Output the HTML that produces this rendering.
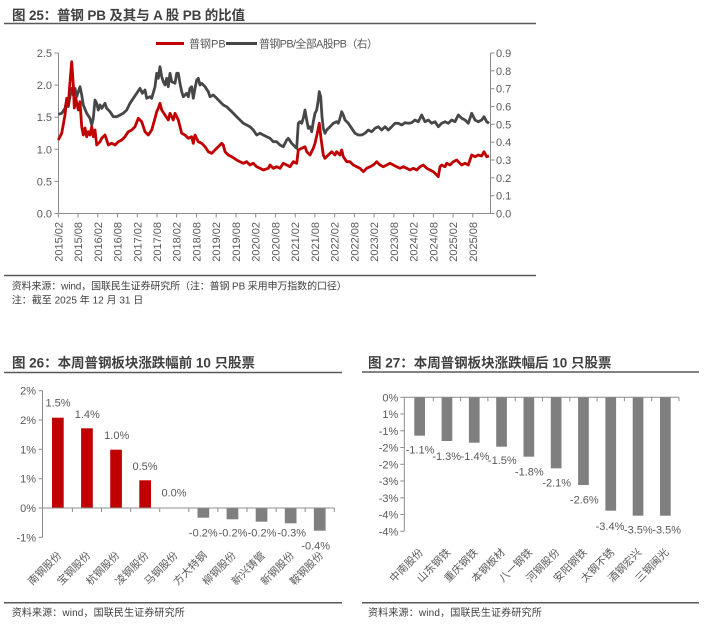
<!DOCTYPE html>
<html><head><meta charset="utf-8">
<style>
html,body{margin:0;padding:0;background:#fff;}
svg{display:block;}
text{font-family:"Liberation Sans","Noto Sans CJK SC",sans-serif;}
.t{font-size:13.5px;font-weight:bold;fill:#404040;}
.src{font-size:10px;fill:#404040;}
.ax{font-size:11px;fill:#595959;}
.cat{font-size:10.5px;fill:#595959;}
</style></head>
<body>
<svg width="705" height="624" viewBox="0 0 705 624" xmlns="http://www.w3.org/2000/svg">
<rect width="705" height="624" fill="#fff"/>

<!-- ============ Figure 25 ============ -->
<text class="t" x="12" y="20" textLength="233">图 25：普钢 PB 及其与 A 股 PB 的比值</text>
<line x1="4" y1="23.5" x2="536" y2="23.5" stroke="#595959" stroke-width="1.5"/>

<!-- legend -->
<line x1="156" y1="43.5" x2="184" y2="43.5" stroke="#C00000" stroke-width="3"/>
<text class="ax" x="189" y="47.5">普钢PB</text>
<line x1="226" y1="43.5" x2="257" y2="43.5" stroke="#474747" stroke-width="3"/>
<text class="ax" x="259" y="47.5" textLength="119">普钢PB/全部A股PB（右）</text>

<!-- left axis -->
<g stroke="#8c8c8c" stroke-width="1">
<line x1="58.5" y1="53" x2="58.5" y2="213.5"/>
<line x1="54.5" y1="53" x2="58.5" y2="53"/>
<line x1="54.5" y1="85.1" x2="58.5" y2="85.1"/>
<line x1="54.5" y1="117.2" x2="58.5" y2="117.2"/>
<line x1="54.5" y1="149.3" x2="58.5" y2="149.3"/>
<line x1="54.5" y1="181.4" x2="58.5" y2="181.4"/>
<line x1="54.5" y1="213.5" x2="58.5" y2="213.5"/>
</g>
<g class="ax" text-anchor="end">
<text x="52" y="57">2.5</text>
<text x="52" y="89.1">2.0</text>
<text x="52" y="121.2">1.5</text>
<text x="52" y="153.3">1.0</text>
<text x="52" y="185.4">0.5</text>
<text x="52" y="217.5">0.0</text>
</g>

<!-- right axis -->
<g stroke="#8c8c8c" stroke-width="1">
<line x1="490.5" y1="53" x2="490.5" y2="213.5"/>
<line x1="490.5" y1="53" x2="494.5" y2="53"/>
<line x1="490.5" y1="70.8" x2="494.5" y2="70.8"/>
<line x1="490.5" y1="88.7" x2="494.5" y2="88.7"/>
<line x1="490.5" y1="106.5" x2="494.5" y2="106.5"/>
<line x1="490.5" y1="124.3" x2="494.5" y2="124.3"/>
<line x1="490.5" y1="142.2" x2="494.5" y2="142.2"/>
<line x1="490.5" y1="160" x2="494.5" y2="160"/>
<line x1="490.5" y1="177.8" x2="494.5" y2="177.8"/>
<line x1="490.5" y1="195.7" x2="494.5" y2="195.7"/>
<line x1="490.5" y1="213.5" x2="494.5" y2="213.5"/>
</g>
<g class="ax">
<text x="496" y="57">0.9</text>
<text x="496" y="74.8">0.8</text>
<text x="496" y="92.7">0.7</text>
<text x="496" y="110.5">0.6</text>
<text x="496" y="128.3">0.5</text>
<text x="496" y="146.2">0.4</text>
<text x="496" y="164">0.3</text>
<text x="496" y="181.8">0.2</text>
<text x="496" y="199.7">0.1</text>
<text x="496" y="217.5">0.0</text>
</g>

<!-- x axis -->
<g stroke="#8c8c8c" stroke-width="1">
<line x1="58.5" y1="213.5" x2="490.5" y2="213.5"/>
<line x1="58.3" y1="213.5" x2="58.3" y2="217.5"/>
<line x1="78" y1="213.5" x2="78" y2="217.5"/>
<line x1="97.8" y1="213.5" x2="97.8" y2="217.5"/>
<line x1="117.5" y1="213.5" x2="117.5" y2="217.5"/>
<line x1="137.3" y1="213.5" x2="137.3" y2="217.5"/>
<line x1="157" y1="213.5" x2="157" y2="217.5"/>
<line x1="176.7" y1="213.5" x2="176.7" y2="217.5"/>
<line x1="196.5" y1="213.5" x2="196.5" y2="217.5"/>
<line x1="216.2" y1="213.5" x2="216.2" y2="217.5"/>
<line x1="236" y1="213.5" x2="236" y2="217.5"/>
<line x1="255.7" y1="213.5" x2="255.7" y2="217.5"/>
<line x1="275.4" y1="213.5" x2="275.4" y2="217.5"/>
<line x1="295.2" y1="213.5" x2="295.2" y2="217.5"/>
<line x1="314.9" y1="213.5" x2="314.9" y2="217.5"/>
<line x1="334.7" y1="213.5" x2="334.7" y2="217.5"/>
<line x1="354.4" y1="213.5" x2="354.4" y2="217.5"/>
<line x1="374.1" y1="213.5" x2="374.1" y2="217.5"/>
<line x1="393.9" y1="213.5" x2="393.9" y2="217.5"/>
<line x1="413.6" y1="213.5" x2="413.6" y2="217.5"/>
<line x1="433.4" y1="213.5" x2="433.4" y2="217.5"/>
<line x1="453.1" y1="213.5" x2="453.1" y2="217.5"/>
<line x1="472.8" y1="213.5" x2="472.8" y2="217.5"/>
</g>
<g class="ax" text-anchor="end">
<text x="62.3" y="222" transform="rotate(-90 62.3 222)">2015/02</text>
<text x="82" y="222" transform="rotate(-90 82 222)">2015/08</text>
<text x="101.8" y="222" transform="rotate(-90 101.8 222)">2016/02</text>
<text x="121.5" y="222" transform="rotate(-90 121.5 222)">2016/08</text>
<text x="141.3" y="222" transform="rotate(-90 141.3 222)">2017/02</text>
<text x="161" y="222" transform="rotate(-90 161 222)">2017/08</text>
<text x="180.7" y="222" transform="rotate(-90 180.7 222)">2018/02</text>
<text x="200.5" y="222" transform="rotate(-90 200.5 222)">2018/08</text>
<text x="220.2" y="222" transform="rotate(-90 220.2 222)">2019/02</text>
<text x="240" y="222" transform="rotate(-90 240 222)">2019/08</text>
<text x="259.7" y="222" transform="rotate(-90 259.7 222)">2020/02</text>
<text x="279.4" y="222" transform="rotate(-90 279.4 222)">2020/08</text>
<text x="299.2" y="222" transform="rotate(-90 299.2 222)">2021/02</text>
<text x="318.9" y="222" transform="rotate(-90 318.9 222)">2021/08</text>
<text x="338.7" y="222" transform="rotate(-90 338.7 222)">2022/02</text>
<text x="358.4" y="222" transform="rotate(-90 358.4 222)">2022/08</text>
<text x="378.1" y="222" transform="rotate(-90 378.1 222)">2023/02</text>
<text x="397.9" y="222" transform="rotate(-90 397.9 222)">2023/08</text>
<text x="417.6" y="222" transform="rotate(-90 417.6 222)">2024/02</text>
<text x="437.4" y="222" transform="rotate(-90 437.4 222)">2024/08</text>
<text x="457.1" y="222" transform="rotate(-90 457.1 222)">2025/02</text>
<text x="476.8" y="222" transform="rotate(-90 476.8 222)">2025/08</text>
</g>

<!-- gray series -->
<polyline fill="none" stroke="#474747" stroke-width="2.8" stroke-linejoin="round" points="58.3,114.3 61.7,113.3 65,108.3 66.7,100 68.3,106.7 70,96.7 71.7,88.3 73.3,95 75,88.3 76.7,96.7 78.3,91.7 80,86.7 81.7,95 83.3,105 86.7,113.3 90,118.3 91.7,125 93.3,118.3 95,100 96.7,103.3 98.3,110 100,105 101.7,108.3 105,103.3 106.7,108.3 110,111.7 113.3,116.7 116.7,116.7 120,115 123.3,113.3 126.7,110 130,103.3 133.3,98.3 136.7,93.3 140,88.3 142.3,93.3 145,90 146.7,98.3 150,96.7 151.7,98.3 155,86.7 156.7,73.3 158.3,78.3 160,66.7 161.7,76.7 163.3,81.7 165,85 166.7,78.3 168.3,86.7 170,73.3 171.7,81.7 175,83.3 176.7,73.3 178.3,73.3 180,83.3 181.7,91.7 183.3,96.7 186.7,93.3 188.3,96.7 190,88.3 191.7,86.7 193.3,98.3 195,88.3 196.7,80 198.3,78.3 200,85 201.7,83.3 205,86.7 208.3,91.7 210,96.7 213.3,95 216.7,98.3 220,101.7 223.3,105 226.7,106.7 230,110 233.3,113.3 236.7,116.7 240,120 243.3,123.3 246.7,125 250,126.7 253.3,130 256.7,135 260,133.3 263.3,135 266.7,136.7 270,138.3 273.3,141.7 276.7,141.7 280,145 283.3,146.7 286.7,140 288.3,138.3 291.7,143.3 295,146.7 296.7,148.3 298.3,123.3 300,121.7 301.7,123.3 303.3,118.3 305,110 306.7,120 308.3,128.3 310,126.7 311.7,131.7 313.3,121.7 315,113.3 316.7,110 318.3,100 319.3,91.7 320.7,96.7 322,116.7 323.3,128.3 325,133.3 326.7,130 330,126.7 333.3,123.3 336.7,121.7 338.3,123.3 340,118.3 341.7,111.7 343.3,115 345,120 348.3,123.3 351.7,128.3 355,133.3 358.3,135 361.7,135 365,133.3 368.3,130 371.7,131.7 375,128.3 378.3,126.7 381.7,130 385,126.7 388.3,130 391.7,126.7 395,123.3 398.3,123.3 401.7,125 405,122.7 408.3,123.3 411.7,122.7 415,120 418.3,121.7 421.7,115 425,121.7 428.3,120 431.7,123.3 435,121.7 438.3,126.7 441.7,123.3 445,121.7 448.3,123.3 451.7,120 455,121.7 458.3,115 461.7,118.3 465,120 468.3,123.3 471.7,113.3 475,120 478.3,121.7 481.7,120 484,116.7 486.7,121.7 489,123.3"/>

<!-- red series -->
<polyline fill="none" stroke="#C00000" stroke-width="2.8" stroke-linejoin="round" points="58.3,140 61.7,133.3 65,115 66.7,98.3 68.3,105 70,81.7 71.7,61.7 73.3,85 74.3,108 75.7,98 78.3,110 80,101.7 81.7,126.7 83.3,135 85,128 86.7,136.7 88.3,131.7 90,135 91.7,126.7 93.3,136.7 95,130 96.7,145 100,141.7 101.7,138.3 105,135 106.7,140 108.3,145 111.7,143.3 115,145 118.3,141.7 121.7,140 125,136.7 128.3,131.7 131.7,130 135,126.7 138.3,118.3 141.7,121.7 145,131.7 148.3,135 151.7,130 155,118.3 156.7,111.7 158.3,108.3 160,103.3 161.7,110 165,115 168.3,120 170,113.3 173.3,120 175,113.3 178.3,120 181.7,133.3 185,135 188.3,138.3 191.7,136.7 193.3,143.3 195,135 198.3,141.7 201.7,143.3 205,146.7 208.3,151.7 211.7,153.3 215,150 218.3,146.7 221.7,143.3 223.3,145 225,151.7 228.3,155 231.7,156.7 236.7,160 240,161.7 243.3,163.3 246.7,161.7 250,165 253.3,163.3 256.7,166.7 260,168.3 263.3,170 268.3,168.3 270,165 273.3,168.3 276.7,166.7 280,168.3 283.3,163.3 286.7,165 290,166.7 293.3,161.7 296.7,163.3 298.3,150 301.7,148.3 305,146.7 306.7,151.7 310,155 313.3,148.3 315,143.3 317.3,133.3 319.3,123.3 321,138.3 323.3,155 325,158.3 328.3,155 331.7,151.7 335,155 336.7,151.7 340,155 341.7,150 343.3,156.7 346.7,161.7 350,161.7 353.3,165 356.7,166.7 360,168.3 363.3,171.7 366.7,168.3 370,166.7 373.3,165 376.7,161.7 380,165 383.3,166.7 386.7,165 390,163.3 393.3,165 396.7,166.7 400,168.3 403.3,166.7 406.7,168.3 410,170 413.3,168.3 416.7,170 420,166.7 423.3,165 426.7,168.3 430,170 433.3,171.7 436.7,175 438.3,176.7 440,166.7 441.7,165 445,166.7 446.7,163.3 450,165 453.3,161.7 456.7,160 458.3,161.7 461.7,165 465,163.3 468.3,165 471.7,155 475,156.7 478.3,155 481.7,156 484,151.7 486.7,156.7 489,156"/>

<line x1="4" y1="275.5" x2="536" y2="275.5" stroke="#595959" stroke-width="1.5"/>
<text class="src" x="11.7" y="289.5" textLength="335">资料来源：wind，国联民生证券研究所（注：普钢 PB 采用申万指数的口径）</text>
<text class="src" x="11.7" y="303.5" textLength="131.6">注：截至 2025 年 12 月 31 日</text>

<!-- ============ Figure 26 ============ -->
<text class="t" x="12" y="367.5" textLength="243">图 26：本周普钢板块涨跌幅前 10 只股票</text>
<line x1="4" y1="372.5" x2="342" y2="372.5" stroke="#595959" stroke-width="1.5"/>

<g stroke="#8c8c8c" stroke-width="1">
<line x1="42.5" y1="390.7" x2="42.5" y2="537.3"/>
<line x1="38.5" y1="390.7" x2="42.5" y2="390.7"/>
<line x1="38.5" y1="420" x2="42.5" y2="420"/>
<line x1="38.5" y1="449.3" x2="42.5" y2="449.3"/>
<line x1="38.5" y1="478.7" x2="42.5" y2="478.7"/>
<line x1="38.5" y1="508" x2="42.5" y2="508"/>
<line x1="38.5" y1="537.3" x2="42.5" y2="537.3"/>
</g>
<g class="ax" text-anchor="end">
<text x="36" y="394.7">2%</text>
<text x="36" y="424">2%</text>
<text x="36" y="453.3">1%</text>
<text x="36" y="482.7">1%</text>
<text x="36" y="512">0%</text>
<text x="36" y="541.3">-1%</text>
</g>

<g fill="#C00000">
<rect x="52" y="417.7" width="11.7" height="90.3"/>
<rect x="81.1" y="428.3" width="11.7" height="79.7"/>
<rect x="110.2" y="449.7" width="11.7" height="58.3"/>
<rect x="139.3" y="480.3" width="11.7" height="27.7"/>
</g>
<g fill="#7f7f7f">
<rect x="197.5" y="508" width="11.7" height="9.7"/>
<rect x="226.6" y="508" width="11.7" height="11.3"/>
<rect x="255.7" y="508" width="11.7" height="13.7"/>
<rect x="284.8" y="508" width="11.7" height="15.3"/>
<rect x="313.9" y="508" width="11.7" height="22.7"/>
</g>

<g stroke="#8c8c8c" stroke-width="1">
<line x1="42.5" y1="508" x2="334.3" y2="508"/>
<line x1="72.4" y1="508" x2="72.4" y2="512"/>
<line x1="101.5" y1="508" x2="101.5" y2="512"/>
<line x1="130.6" y1="508" x2="130.6" y2="512"/>
<line x1="159.7" y1="508" x2="159.7" y2="512"/>
<line x1="188.8" y1="508" x2="188.8" y2="512"/>
<line x1="217.9" y1="508" x2="217.9" y2="512"/>
<line x1="247" y1="508" x2="247" y2="512"/>
<line x1="276.1" y1="508" x2="276.1" y2="512"/>
<line x1="305.2" y1="508" x2="305.2" y2="512"/>
<line x1="334.3" y1="508" x2="334.3" y2="512"/>
</g>

<g class="ax" text-anchor="middle">
<text x="58" y="406.7">1.5%</text>
<text x="87.3" y="418">1.4%</text>
<text x="116.7" y="439">1.0%</text>
<text x="145" y="470">0.5%</text>
<text x="174" y="496.7">0.0%</text>
<text x="203.3" y="536.7">-0.2%</text>
<text x="233" y="536.7">-0.2%</text>
<text x="262" y="536.7">-0.2%</text>
<text x="291.7" y="536.7">-0.3%</text>
<text x="315.7" y="549.3">-0.4%</text>
</g>

<g class="cat" text-anchor="end">
<text x="62" y="556" transform="rotate(-45 62 556)">南钢股份</text>
<text x="91.1" y="556" transform="rotate(-45 91.1 556)">宝钢股份</text>
<text x="120.2" y="556" transform="rotate(-45 120.2 556)">杭钢股份</text>
<text x="149.3" y="556" transform="rotate(-45 149.3 556)">凌钢股份</text>
<text x="178.4" y="556" transform="rotate(-45 178.4 556)">马钢股份</text>
<text x="207.5" y="556" transform="rotate(-45 207.5 556)">方大特钢</text>
<text x="236.6" y="556" transform="rotate(-45 236.6 556)">柳钢股份</text>
<text x="265.7" y="556" transform="rotate(-45 265.7 556)">新兴铸管</text>
<text x="294.8" y="556" transform="rotate(-45 294.8 556)">新钢股份</text>
<text x="323.9" y="556" transform="rotate(-45 323.9 556)">鞍钢股份</text>
</g>

<line x1="4" y1="602.7" x2="342" y2="602.7" stroke="#595959" stroke-width="1.5"/>
<text class="src" x="11.7" y="616.2" textLength="173">资料来源：wind，国联民生证券研究所</text>

<!-- ============ Figure 27 ============ -->
<text class="t" x="368" y="367.5" textLength="243.5">图 27：本周普钢板块涨跌幅后 10 只股票</text>
<line x1="362" y1="372" x2="699" y2="372" stroke="#595959" stroke-width="1.5"/>

<g fill="#7f7f7f">
<rect x="414.3" y="397.3" width="10.7" height="38.4"/>
<rect x="441.6" y="397.3" width="10.7" height="43.7"/>
<rect x="468.9" y="397.3" width="10.7" height="45.4"/>
<rect x="496.2" y="397.3" width="10.7" height="49.4"/>
<rect x="523.5" y="397.3" width="10.7" height="59.4"/>
<rect x="550.8" y="397.3" width="10.7" height="71"/>
<rect x="578.1" y="397.3" width="10.7" height="87.7"/>
<rect x="605.4" y="397.3" width="10.7" height="113.4"/>
<rect x="632.7" y="397.3" width="10.7" height="118.4"/>
<rect x="660" y="397.3" width="10.7" height="118.4"/>
</g>

<g stroke="#8c8c8c" stroke-width="1">
<line x1="404.3" y1="397.3" x2="404.3" y2="531.3"/>
<line x1="400.3" y1="397.3" x2="404.3" y2="397.3"/>
<line x1="400.3" y1="414" x2="404.3" y2="414"/>
<line x1="400.3" y1="430.8" x2="404.3" y2="430.8"/>
<line x1="400.3" y1="447.5" x2="404.3" y2="447.5"/>
<line x1="400.3" y1="464.3" x2="404.3" y2="464.3"/>
<line x1="400.3" y1="481" x2="404.3" y2="481"/>
<line x1="400.3" y1="497.8" x2="404.3" y2="497.8"/>
<line x1="400.3" y1="514.5" x2="404.3" y2="514.5"/>
<line x1="400.3" y1="531.3" x2="404.3" y2="531.3"/>
<line x1="404.3" y1="397.3" x2="679" y2="397.3"/>
<line x1="433.3" y1="397.3" x2="433.3" y2="401.3"/>
<line x1="460.6" y1="397.3" x2="460.6" y2="401.3"/>
<line x1="487.9" y1="397.3" x2="487.9" y2="401.3"/>
<line x1="515.2" y1="397.3" x2="515.2" y2="401.3"/>
<line x1="542.5" y1="397.3" x2="542.5" y2="401.3"/>
<line x1="569.8" y1="397.3" x2="569.8" y2="401.3"/>
<line x1="597.1" y1="397.3" x2="597.1" y2="401.3"/>
<line x1="624.4" y1="397.3" x2="624.4" y2="401.3"/>
<line x1="651.7" y1="397.3" x2="651.7" y2="401.3"/>
<line x1="679" y1="397.3" x2="679" y2="401.3"/>
</g>
<g class="ax" text-anchor="end">
<text x="398.3" y="401.3">0%</text>
<text x="398.3" y="418">1%</text>
<text x="398.3" y="434.8">-1%</text>
<text x="398.3" y="451.5">-2%</text>
<text x="398.3" y="468.3">-2%</text>
<text x="398.3" y="485">-3%</text>
<text x="398.3" y="501.8">-3%</text>
<text x="398.3" y="518.5">-4%</text>
<text x="398.3" y="535.3">-4%</text>
</g>

<g class="ax" text-anchor="middle">
<text x="420" y="453.3">-1.1%</text>
<text x="446.7" y="460">-1.3%</text>
<text x="475" y="460">-1.4%</text>
<text x="502.3" y="464">-1.5%</text>
<text x="529.3" y="475.7">-1.8%</text>
<text x="556.7" y="486.7">-2.1%</text>
<text x="584.3" y="503.3">-2.6%</text>
<text x="610" y="530">-3.4%</text>
<text x="638.3" y="533.3">-3.5%</text>
<text x="666.7" y="533.3">-3.5%</text>
</g>

<g class="cat" text-anchor="end">
<text x="423.7" y="553" transform="rotate(-45 423.7 553)">中南股份</text>
<text x="451" y="553" transform="rotate(-45 451 553)">山东钢铁</text>
<text x="478.3" y="553" transform="rotate(-45 478.3 553)">重庆钢铁</text>
<text x="505.6" y="553" transform="rotate(-45 505.6 553)">本钢板材</text>
<text x="532.9" y="553" transform="rotate(-45 532.9 553)">八一钢铁</text>
<text x="560.2" y="553" transform="rotate(-45 560.2 553)">河钢股份</text>
<text x="587.5" y="553" transform="rotate(-45 587.5 553)">安阳钢铁</text>
<text x="614.8" y="553" transform="rotate(-45 614.8 553)">太钢不锈</text>
<text x="642.1" y="553" transform="rotate(-45 642.1 553)">酒钢宏兴</text>
<text x="669.4" y="553" transform="rotate(-45 669.4 553)">三钢闽光</text>
</g>

<line x1="362" y1="602.7" x2="699" y2="602.7" stroke="#595959" stroke-width="1.5"/>
<text class="src" x="368" y="616.2" textLength="173.7">资料来源：wind，国联民生证券研究所</text>
</svg>
</body></html>
